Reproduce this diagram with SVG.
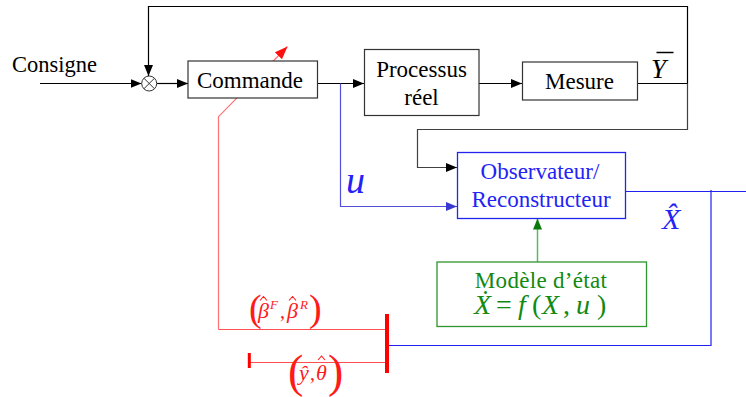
<svg xmlns="http://www.w3.org/2000/svg" width="746" height="397" viewBox="0 0 746 397" font-family="'Liberation Serif', 'Times New Roman', serif">
<style>
.c{text-anchor:middle}
.box{fill:#fff;stroke:#333;stroke-width:1.2}
.ln{fill:none;stroke:#000;stroke-width:1.2}
.blue{fill:#2323f5}
.green{fill:#128a12}
.red{fill:#ff1a1a}
.i{font-style:italic}
.hat{fill:none;stroke:#ff1a1a;stroke-width:1.1}
</style>
<defs>
<marker id="ak" markerUnits="userSpaceOnUse" markerWidth="11" markerHeight="9" refX="11" refY="4.5" orient="auto"><path d="M0,0 L11,4.5 L0,9 z" fill="#000"/></marker>
<marker id="ab" markerUnits="userSpaceOnUse" markerWidth="11" markerHeight="9" refX="11" refY="4.5" orient="auto"><path d="M0,0 L11,4.5 L0,9 z" fill="#3a3ad0"/></marker>
<marker id="ag" markerUnits="userSpaceOnUse" markerWidth="11" markerHeight="9" refX="11" refY="4.5" orient="auto"><path d="M0,0 L11,4.5 L0,9 z" fill="#0a7a0a"/></marker>
<marker id="ar" markerUnits="userSpaceOnUse" markerWidth="13" markerHeight="10" refX="13" refY="5" orient="auto"><path d="M0,0 L13,5 L0,10 z" fill="#ff1010"/></marker>
</defs>
<rect width="746" height="397" fill="#fff"/>

<g id="connectors">
<path class="ln" d="M40,83.5 H141.5" marker-end="url(#ak)"/>
<path class="ln" d="M637.5,83.5 H687.5 V6.5 H148.5 V76" marker-end="url(#ak)"/>
<path d="M687.5,83.5 V129.5 H417.5 V167.5 H457" fill="none" stroke="#404040" stroke-width="1.2" marker-end="url(#ak)"/>
<path class="ln" d="M157,83.5 H188" marker-end="url(#ak)"/>
<path class="ln" d="M318,83.5 H364" marker-end="url(#ak)"/>
<path class="ln" d="M479,83.5 H522" marker-end="url(#ak)"/>
<path d="M340.5,83.5 V206.5 H457" fill="none" stroke="#5050dc" stroke-width="1.2" marker-end="url(#ab)"/>
<path d="M626,191.5 H746 M711,190 V345.5 H389" fill="none" stroke="#2020f0" stroke-width="1.2"/>
<path d="M537.5,262 V218.5" fill="none" stroke="#5cb85c" stroke-width="1.5" marker-end="url(#ag)"/>
<path d="M218.5,329.5 H386" fill="none" stroke="#ff5050" stroke-width="1.2"/>
<path d="M218.5,329.5 V116.7 L287.5,46.5" fill="none" stroke="#ff7070" stroke-width="1.2" marker-end="url(#ar)"/>
<path d="M249,362.5 H386" fill="none" stroke="#ff5050" stroke-width="1.2"/>
</g>

<g id="consigne">
<text x="12" y="72" font-size="22.5">Consigne</text>
</g>

<g id="sum">
<circle cx="149.2" cy="83.5" r="7.5" fill="#fff" stroke="#333" stroke-width="1"/>
<path d="M143.9,78.2 L154.5,88.8 M154.5,78.2 L143.9,88.8" stroke="#333" stroke-width="1"/>
</g>

<g id="commande">
<rect class="box" x="188" y="61" width="129.5" height="37"/>
<text class="c" x="250" y="88" font-size="23">Commande</text>
</g>

<g id="processus">
<rect class="box" x="364.5" y="49.5" width="114.5" height="66"/>
<text class="c" x="421.5" y="77" font-size="23">Processus</text>
<text class="c" x="421.5" y="105" font-size="23">réel</text>
</g>

<g id="mesure">
<rect class="box" x="522.5" y="62" width="115" height="38"/>
<text class="c" x="579.5" y="89" font-size="23">Mesure</text>
<text class="i" x="651" y="78" font-size="27">Y</text>
<line x1="656.5" y1="52.5" x2="673.5" y2="52.5" stroke="#000" stroke-width="1.5"/>
</g>

<g id="observateur">
<rect x="457.5" y="152.5" width="168" height="66" fill="#fff" stroke="#2424f0" stroke-width="1.3"/>
<text class="c blue" x="540" y="179" font-size="23">Observateur/</text>
<text class="c blue" x="541" y="207" font-size="23">Reconstructeur</text>
<text class="i blue" x="346" y="193" font-size="38">u</text>
<text class="i blue" x="662" y="229" font-size="30">X̂</text>
</g>

<g id="modele">
<rect x="437" y="262" width="209.5" height="64.5" fill="#fff" stroke="#2e962e" stroke-width="1.3"/>
<text class="c green" x="541" y="288" font-size="23" letter-spacing="0.3">Modèle d’état</text>
<text class="green" x="474" y="314" font-size="28"><tspan class="i">Ẋ</tspan><tspan x="496">=</tspan><tspan class="i" x="518">f</tspan><tspan x="532">(</tspan><tspan class="i" x="542">X</tspan><tspan x="563">,</tspan><tspan class="i" x="576">u</tspan><tspan x="597">)</tspan></text>
</g>

<g id="estimation">
<rect x="385" y="314" width="4" height="59" fill="#ff0000"/>
<rect x="247.8" y="353" width="3" height="15" fill="#ff0000"/>
<text class="red" font-size="22"><tspan x="249" y="321" font-size="38">(</tspan><tspan class="i" x="258" y="318">β</tspan><tspan class="i" x="270" y="309" font-size="13">F</tspan><tspan x="280" y="318" font-size="20">,</tspan><tspan class="i" x="287" y="318">β</tspan><tspan class="i" x="300" y="309" font-size="13">R</tspan><tspan x="309" y="321" font-size="38">)</tspan></text>
<path class="hat" d="M260,300.5 L263.5,296.5 L267,300.5 M289,300.5 L292.5,296.5 L296,300.5"/>
<text class="red" font-size="22"><tspan x="288" y="387" font-size="46">(</tspan><tspan class="i" x="299" y="380">ŷ</tspan><tspan x="310" y="380" font-size="20">,</tspan><tspan class="i" x="316" y="380">θ</tspan><tspan x="328" y="387" font-size="46">)</tspan></text>
<path class="hat" d="M318,360 L321.5,356 L325,360"/>
</g>
</svg>
